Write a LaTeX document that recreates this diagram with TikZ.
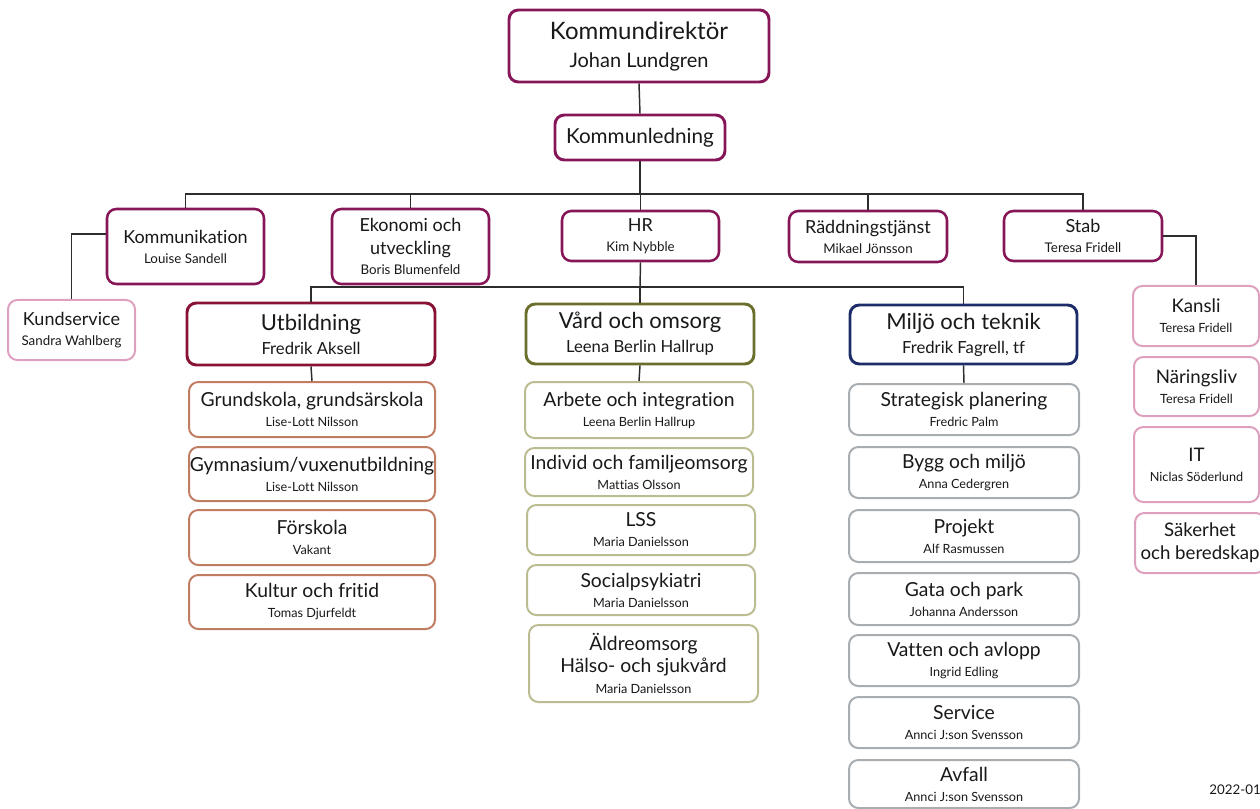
\documentclass[tikz,border=0pt]{standalone}
\usepackage{fontspec}
\setmainfont{Lato}[Ligatures={NoCommon,NoRare,NoContextual}]
\usetikzlibrary{calc}
\definecolor{txt}{RGB}{25,25,25}
\definecolor{topc}{RGB}{135,22,88}
\definecolor{utbc}{RGB}{135,18,52}
\definecolor{vardc}{RGB}{108,110,44}
\definecolor{miljc}{RGB}{28,44,105}
\definecolor{utbk}{RGB}{192,125,98}
\definecolor{vardk}{RGB}{188,188,145}
\definecolor{miljk}{RGB}{168,173,178}
\definecolor{pinkc}{RGB}{222,160,190}
\definecolor{linec}{RGB}{45,45,45}
\newcommand\Ln[2]{\fontsize{#1pt}{#1pt}\selectfont #2}
\tikzset{
  bx/.style={draw, rounded corners=7pt, line width=1.5pt, align=center, inner sep=0pt, fill=white, text=txt},
  wh/.style 2 args={minimum width=#1*0.75pt, minimum height=#2*0.75pt},
  bs/.style={font=\fontsize{9pt}{#1pt}\selectfont},
  topbox/.style={bx, draw=topc, line width=2.2pt},
  lvltwo/.style={bx, draw=topc, line width=1.9pt, bs=15},
  utbbox/.style={bx, draw=utbc, line width=2.2pt, bs=18},
  vardbox/.style={bx, draw=vardc, line width=2.2pt, bs=18},
  miljbox/.style={bx, draw=miljc, line width=2.2pt, bs=18},
  utbkid/.style={bx, draw=utbk, bs=15},
  vardkid/.style={bx, draw=vardk, bs=15},
  miljkid/.style={bx, draw=miljk, bs=15},
  pinkbox/.style={bx, draw=pinkc, bs=15},
  conn/.style={draw=linec, line width=1.1pt}
}
\begin{document}
\begin{tikzpicture}[x=0.75pt,y=-0.75pt]
\useasboundingbox (0,0) rectangle (1260,809);
% top
\node[topbox, wh={260}{72}, bs=21] (kd) at (639,46) {\Ln{18}{Kommundirektör}\\\Ln{15}{Johan Lundgren}};
\node[topbox, wh={170}{45}, bs=15] (kl) at (640,137.5) {\Ln{15.5}{Kommunledning}};
% level 2
\node[lvltwo, wh={157}{75}] (kom) at (185.5,246.5) {\Ln{13.5}{Kommunikation}\\\Ln{10}{Louise Sandell}};
\node[lvltwo, wh={157}{75}] (eko) at (410.5,246.5) {\Ln{13.5}{Ekonomi och}\\[2pt]\Ln{13.5}{utveckling}\\\Ln{10}{Boris Blumenfeld}};
\node[lvltwo, wh={157}{50}] (hr) at (640.5,236) {\Ln{13.5}{HR}\\\Ln{10}{Kim Nybble}};
\node[lvltwo, wh={158}{51}] (rt) at (868,236.5) {\Ln{13.5}{Räddningstjänst}\\\Ln{10}{Mikael Jönsson}};
\node[lvltwo, wh={158}{50}] (stab) at (1083,236) {\Ln{13.5}{Stab}\\\Ln{10}{Teresa Fridell}};
\node[pinkbox, wh={127}{60}] (ks) at (71.5,330) {\Ln{13.5}{Kundservice}\\\Ln{10}{Sandra Wahlberg}};
% divisions
\node[utbbox, wh={248}{62}] (utb) at (311,334) {\Ln{16.5}{Utbildning}\\\Ln{12.5}{Fredrik Aksell}};
\node[vardbox, wh={228}{60}] (vard) at (640,334) {\Ln{16.5}{Vård och omsorg}\\\Ln{12.5}{Leena Berlin Hallrup}};
\node[miljbox, wh={227}{59}] (milj) at (963.5,334.5) {\Ln{16.5}{Miljö och teknik}\\\Ln{12.5}{Fredrik Fagrell, tf}};
% stab children
\node[pinkbox, wh={126}{60}] (kansli) at (1196,316) {\Ln{14}{Kansli}\\\Ln{9.5}{Teresa Fridell}};
\node[pinkbox, wh={125}{59}] (nar) at (1196.5,386.5) {\Ln{14}{Näringsliv}\\\Ln{9.5}{Teresa Fridell}};
\node[pinkbox, wh={125}{75}] (it) at (1196.5,464.5) {\Ln{14}{IT}\\\Ln{9.5}{Niclas Söderlund}};
\node[pinkbox, wh={130}{60}, bs=17] (sak) at (1200,543) {\Ln{14}{Säkerhet}\\\Ln{14}{och beredskap}};
% utbildning children
\node[utbkid, wh={246}{55}] (g1) at (312,409.5) {\Ln{14.5}{Grundskola, grundsärskola}\\\Ln{9.5}{Lise-Lott Nilsson}};
\node[utbkid, wh={246}{54}] (g2) at (312,474) {\Ln{14.5}{Gymnasium/vuxenutbildning}\\\Ln{9.5}{Lise-Lott Nilsson}};
\node[utbkid, wh={246}{55}] (g3) at (312,537.5) {\Ln{14.5}{Förskola}\\\Ln{9.5}{Vakant}};
\node[utbkid, wh={246}{54}] (g4) at (312,602) {\Ln{14.5}{Kultur och fritid}\\\Ln{9.5}{Tomas Djurfeldt}};
% vard children
\node[vardkid, wh={228}{56}] (v1) at (639,410) {\Ln{14.5}{Arbete och integration}\\\Ln{9.5}{Leena Berlin Hallrup}};
\node[vardkid, wh={228}{48}] (v2) at (639,472) {\Ln{14.5}{Individ och familjeomsorg}\\\Ln{9.5}{Mattias Olsson}};
\node[vardkid, wh={228}{50}] (v3) at (641,530) {\Ln{14.5}{LSS}\\\Ln{9.5}{Maria Danielsson}};
\node[vardkid, wh={228}{50}] (v4) at (641,590) {\Ln{14.5}{Socialpsykiatri}\\\Ln{9.5}{Maria Danielsson}};
\node[vardkid, wh={229}{77}, bs=16] (v5) at (643.5,663.5) {\Ln{14.5}{Äldreomsorg}\\\Ln{14.5}{Hälso- och sjukvård}\\\Ln{9.5}{Maria Danielsson}};
% miljo children
\node[miljkid, wh={230}{51}] (m1) at (964,409.5) {\Ln{14.5}{Strategisk planering}\\\Ln{9.5}{Fredric Palm}};
\node[miljkid, wh={230}{51}] (m2) at (964,472.5) {\Ln{14.5}{Bygg och miljö}\\\Ln{9.5}{Anna Cedergren}};
\node[miljkid, wh={230}{52}] (m3) at (964,536) {\Ln{14.5}{Projekt}\\\Ln{9.5}{Alf Rasmussen}};
\node[miljkid, wh={230}{52}] (m4) at (964,599) {\Ln{14.5}{Gata och park}\\\Ln{9.5}{Johanna Andersson}};
\node[miljkid, wh={230}{51}] (m5) at (964,660.5) {\Ln{14.5}{Vatten och avlopp}\\\Ln{9.5}{Ingrid Edling}};
\node[miljkid, wh={230}{51}] (m6) at (964,722.5) {\Ln{14.5}{Service}\\\Ln{9.5}{Annci J:son Svensson}};
\node[miljkid, wh={230}{48}] (m7) at (964,784) {\Ln{14.5}{Avfall}\\\Ln{9.5}{Annci J:son Svensson}};
% date
\node[anchor=east, inner sep=0pt, text=txt, font=\fontsize{10pt}{10pt}\selectfont] (date) at (1261,790) {2022-01};
% connectors
\coordinate (b1) at (640,194);
\coordinate (b2) at (640,287);
\path[conn] (kd.south) -- (kl.north);
\path[conn] (kl.south) -- (b1);
\path[conn] (kom.north) |- (b1) -| (stab.north);
\path[conn] (eko.north) -- (eko.north |- b1);
\path[conn] (hr.north) -- (hr.north |- b1);
\path[conn] (rt.north) -- (rt.north |- b1);
\path[conn] (hr.south) -- (b2);
\path[conn] (utb.north) |- (b2) -| (milj.north);
\path[conn] (vard.north) -- (vard.north |- b2);
\path[conn] ($(kom.west)+(0,-12.5)$) -| (ks.north);
\path[conn] (stab.east) -| (kansli.north);
\path[conn] (utb.south) -- (g1.north);
\path[conn] (vard.south) -- (v1.north);
\path[conn] (milj.south) -- (m1.north);
\end{tikzpicture}
\end{document}
